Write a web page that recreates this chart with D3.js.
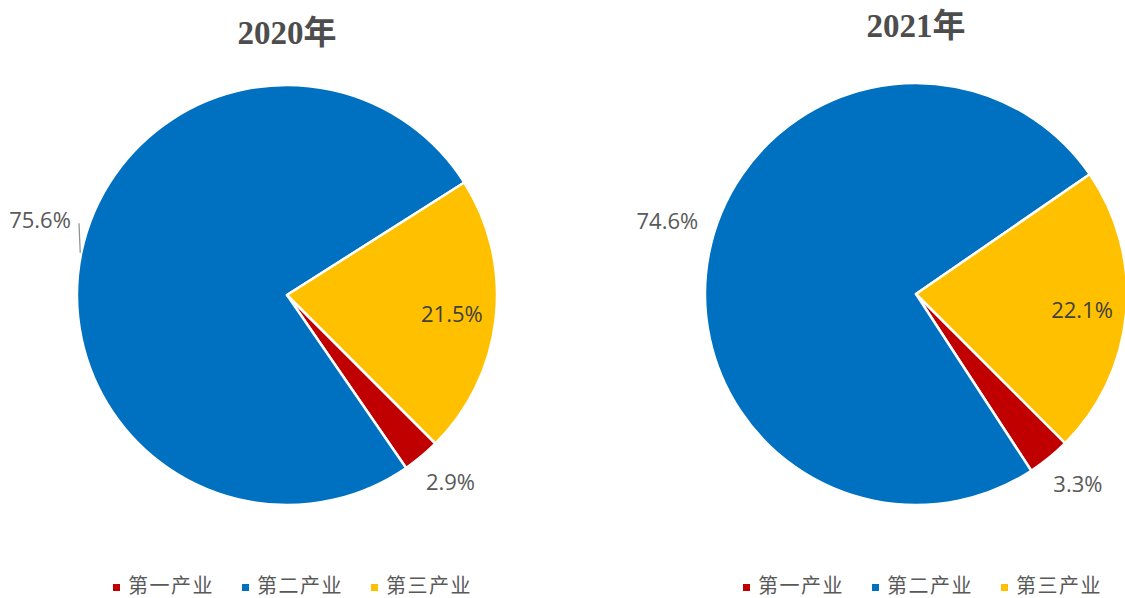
<!DOCTYPE html>
<html>
<head>
<meta charset="utf-8">
<script src="https://cdn.jsdelivr.net/npm/d3@7"></script>
<style>
  body { margin: 0; background: #fff; }
  svg { display: block; }
</style>
</head>
<body>
<div id="chart"></div>
<script>
// Data
const categories = ["第一产业", "第二产业", "第三产业"];
const years = ["2020年", "2021年"];
const values2020 = [2.9, 75.6, 21.5];
const values2021 = [3.3, 74.6, 22.1];
const colors = ["#C00000", "#0070C0", "#FFC000"];

const width = 1125, height = 598;

const svg = d3.select("#chart")
  .append("svg")
  .attr("width", width)
  .attr("height", height);

// chart layout (one per year)
const charts = [
  { title: years[0], values: values2020, cx: 287, cy: 295, r: 210, titleY: 44, legendX: 113, leaderLine: true },
  { title: years[1], values: values2021, cx: 916, cy: 294, r: 211, titleY: 37, legendX: 743, leaderLine: false }
];

// label placement per category: radius factor and angle offset (deg)
const labelRadius = [1.18, 1.23, 0.79];
const labelShift = [-1.5, 5.5, 0];

const startAngle = 135 * Math.PI / 180;

charts.forEach(c => {
  const g = svg.append("g").attr("transform", `translate(${c.cx},${c.cy})`);

  const pie = d3.pie()
    .sort(null)
    .value(d => d)
    .startAngle(startAngle)
    .endAngle(startAngle + 2 * Math.PI);

  const arcs = pie(c.values);
  const arc = d3.arc().innerRadius(0).outerRadius(c.r);

  g.selectAll("path.slice")
    .data(arcs)
    .enter()
    .append("path")
    .attr("class", "slice")
    .attr("d", arc)
    .attr("fill", (d, i) => colors[i])
    .attr("stroke", "#fff")
    .attr("stroke-width", 2.5)
    .attr("stroke-linejoin", "round");

  // data labels
  arcs.forEach((d, i) => {
    const mid = (d.startAngle + d.endAngle) / 2;
    const a = mid + labelShift[i] * Math.PI / 180;
    const rr = c.r * labelRadius[i];
    const x = Math.sin(a) * rr, y = -Math.cos(a) * rr;

    if (i === 1 && c.leaderLine) {
      const a2 = mid + 7.5 * Math.PI / 180;
      g.append("line")
        .attr("x1", Math.sin(mid) * (c.r + 1))
        .attr("y1", -Math.cos(mid) * (c.r + 1))
        .attr("x2", Math.sin(a2) * (c.r + 10))
        .attr("y2", -Math.cos(a2) * (c.r + 10))
        .attr("stroke", "#8c8c8c")
        .attr("stroke-width", 1.2);
    }

    g.append("text")
      .attr("x", x)
      .attr("y", y)
      .attr("text-anchor", "middle")
      .attr("dominant-baseline", "central")
      .style("font-family", "'Open Sans', 'Noto Sans', sans-serif")
      .style("font-size", "22px")
      .style("fill", i === 2 ? "#404040" : "#595959")
      .text(d3.format(".1f")(d.data) + "%");
  });

  // title
  svg.append("text")
    .attr("x", c.cx)
    .attr("y", c.titleY)
    .attr("text-anchor", "middle")
    .style("font-family", "'Liberation Serif', 'DejaVu Serif', 'Noto Sans CJK SC', serif")
    .style("font-weight", "bold")
    .style("font-size", "33px")
    .style("fill", "#4d4d4d")
    .text(c.title);

  // legend
  const legend = svg.append("g").attr("transform", `translate(${c.legendX},584)`);
  let lx = 0;
  categories.forEach((name, i) => {
    const item = legend.append("g").attr("transform", `translate(${lx},0)`);
    item.append("rect")
      .attr("x", 0)
      .attr("y", 0)
      .attr("width", 7)
      .attr("height", 7)
      .attr("fill", colors[i]);
    const t = item.append("text")
      .attr("x", 15)
      .attr("y", 0)
      .attr("dominant-baseline", "central")
      .style("font-family", "'Noto Sans CJK SC', sans-serif")
      .style("font-size", "20px")
      .style("letter-spacing", "1.5px")
      .style("fill", "#595959")
      .text(name);
    lx += 15 + t.node().getComputedTextLength() + 28;
  });
});
</script>
</body>
</html>
